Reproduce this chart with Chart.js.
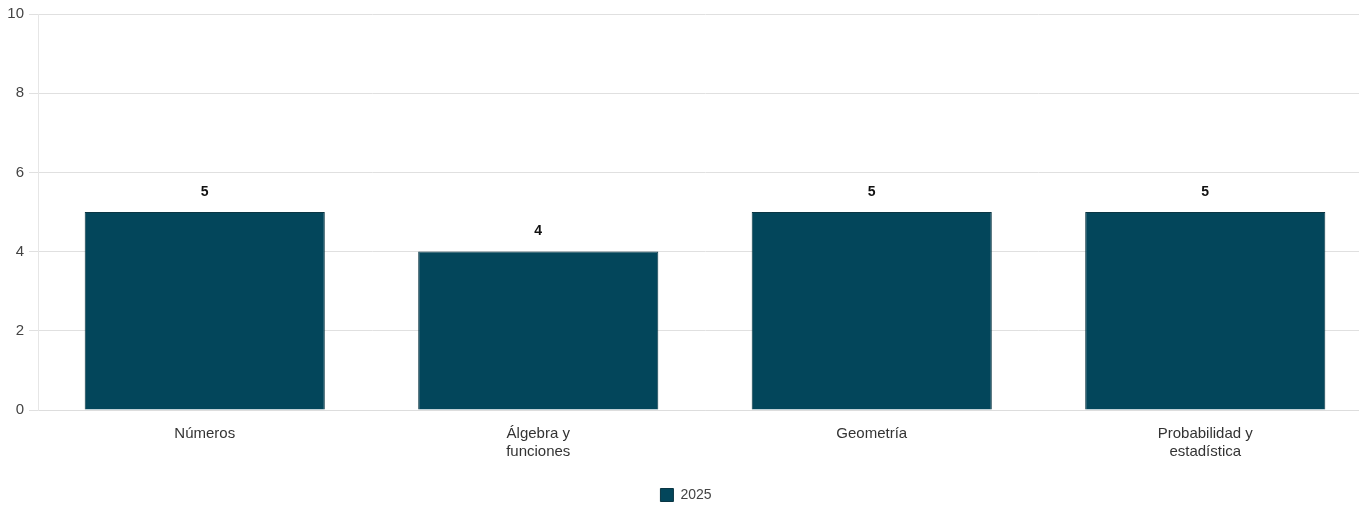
<!DOCTYPE html>
<html>
<head>
<meta charset="utf-8">
<script src="https://cdn.jsdelivr.net/npm/chart.js@4/dist/chart.umd.min.js"></script>
<style>
  html, body { margin: 0; padding: 0; background: #fff; overflow: hidden; }
  #wrap { width: 1372px; height: 506px; position: relative; }
</style>
</head>
<body>
<div id="wrap"><canvas id="c"></canvas></div>
<script>
const categories = ["Números", ["Álgebra y", "funciones"], "Geometría", ["Probabilidad y", "estadística"]];
const seriesName = "2025";
const values2025 = [5, 4, 5, 5];
const yTicks = [0, 2, 4, 6, 8, 10];

const valueLabels = {
  id: 'valueLabels',
  afterDatasetsDraw(chart) {
    const ctx = chart.ctx;
    ctx.save();
    ctx.font = 'bold 14px "Liberation Sans", Arial, sans-serif';
    ctx.fillStyle = '#111';
    ctx.textAlign = 'center';
    ctx.textBaseline = 'middle';
    chart.data.datasets.forEach((ds, i) => {
      chart.getDatasetMeta(i).data.forEach((bar, j) => {
        ctx.fillText(String(ds.data[j]), bar.x, bar.y - 20);
      });
    });
    ctx.restore();
  }
};

new Chart(document.getElementById('c'), {
  type: 'bar',
  data: {
    labels: categories,
    datasets: [{
      label: seriesName,
      data: values2025,
      backgroundColor: '#03465B',
      borderColor: '#0a3644',
      borderWidth: 1,
      barPercentage: 0.72,
      categoryPercentage: 1.0
    }]
  },
  options: {
    responsive: true,
    maintainAspectRatio: false,
    animation: false,
    layout: { padding: { top: 11, right: 0, bottom: -6, left: 0 } },
    plugins: {
      legend: {
        position: 'bottom',
        labels: {
          boxWidth: 13, boxHeight: 13,
          color: '#444',
          font: { family: '"Liberation Sans", Arial, sans-serif', size: 14 },
          padding: 20
        }
      },
      tooltip: { enabled: false }
    },
    scales: {
      x: {
        grid: { display: false },
        border: { display: true, color: '#ddd' },
        ticks: {
          color: '#333',
          font: { family: '"Liberation Sans", Arial, sans-serif', size: 15 },
          padding: 7,
          maxRotation: 0
        }
      },
      y: {
        min: 0, max: 10,
        afterBuildTicks(scale) { scale.ticks = yTicks.map(v => ({ value: v })); },
        afterFit(scale) { scale.width = 38; },
        grid: { color: '#e0e0e0', tickLength: 9 },
        border: { display: true, color: '#e6e6e6' },
        ticks: {
          color: '#444',
          font: { family: '"Liberation Sans", Arial, sans-serif', size: 15 },
          padding: 5
        }
      }
    }
  },
  plugins: [valueLabels]
});
</script>
</body>
</html>
